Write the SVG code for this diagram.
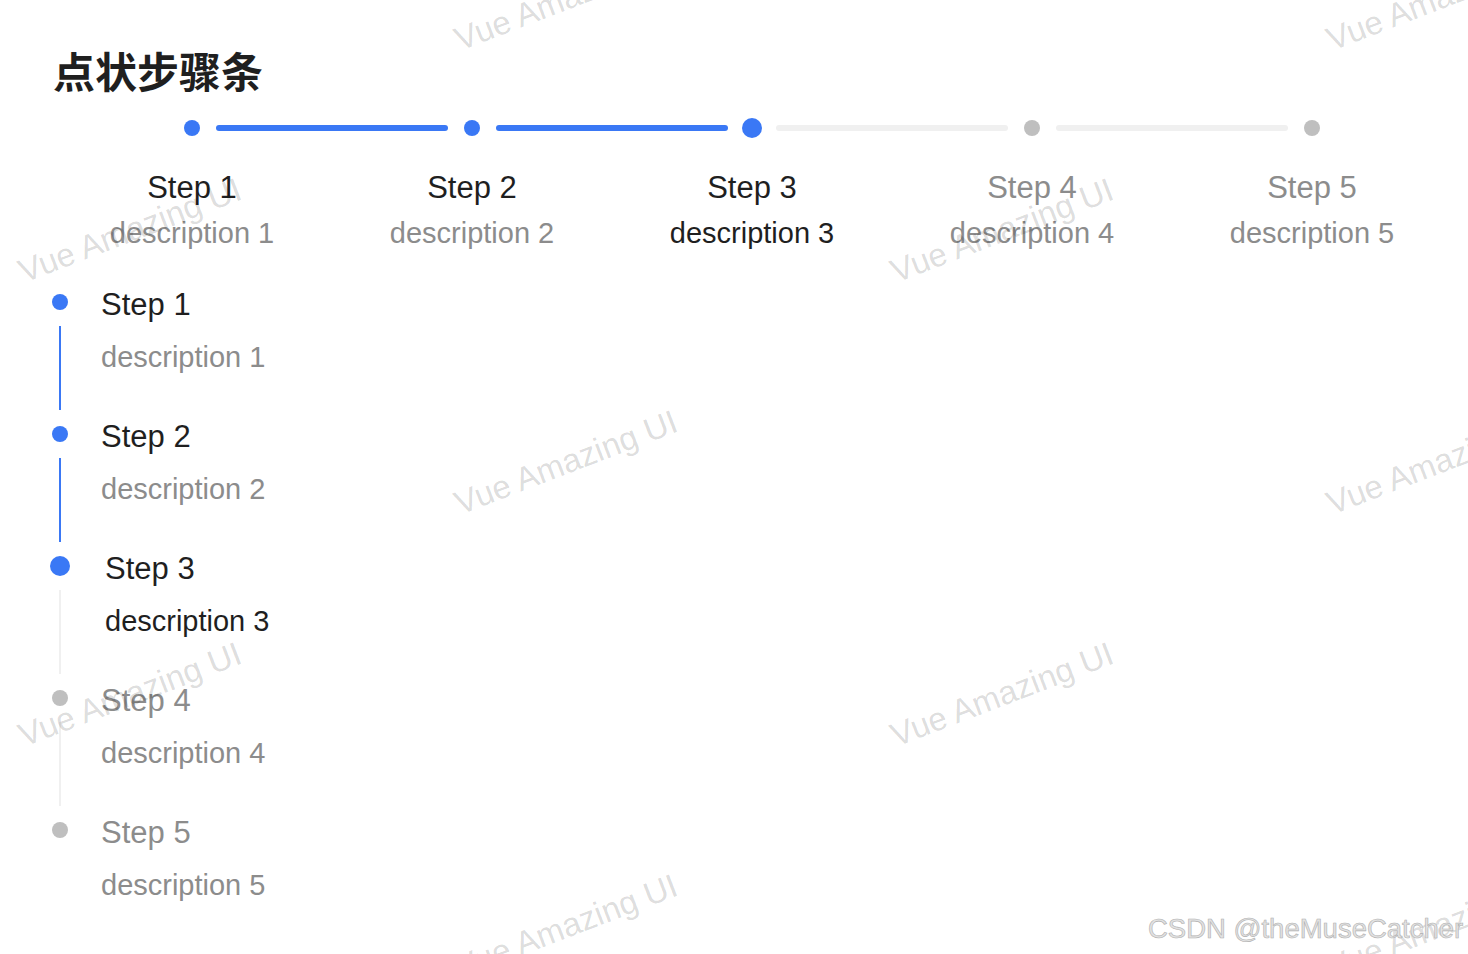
<svg xmlns="http://www.w3.org/2000/svg" width="1468" height="954" viewBox="0 0 1468 954">
<style>
.title{font-family:"Liberation Sans","Noto Sans CJK SC",sans-serif;font-weight:bold;font-size:42px;fill:#1f1f1f}
.t{font-family:"Liberation Sans",Arial,sans-serif;font-size:31px}
.d{font-family:"Liberation Sans",Arial,sans-serif;font-size:29px}
.dark{fill:#1f1f1f}
.gray{fill:#8c8c8c}
.mid{text-anchor:middle}
.wm{font-family:"Liberation Sans",Arial,sans-serif;font-size:33px;fill:rgba(0,0,0,0.15)}
.hl{stroke-width:6;stroke-linecap:round;fill:none}
.vl{stroke-width:2;fill:none}
.on{stroke:#3a78f5}
.off{stroke:#f0f0f0}
.dotOn{fill:#3a78f5}
.dotOff{fill:#bfbfbf}
</style>
<rect width="1468" height="954" fill="#ffffff"/>
<text class="title" x="53" y="88">点状步骤条</text>

<g id="connectors">
<line class="hl on" x1="219" y1="128" x2="445" y2="128"/>
<line class="hl on" x1="499" y1="128" x2="725" y2="128"/>
<line class="hl off" x1="779" y1="128" x2="1005" y2="128"/>
<line class="hl off" x1="1059" y1="128" x2="1285" y2="128"/>
<line class="vl on" x1="60" y1="326" x2="60" y2="410"/>
<line class="vl on" x1="60" y1="458" x2="60" y2="542"/>
<line class="vl off" x1="60" y1="590" x2="60" y2="674"/>
<line class="vl off" x1="60" y1="722" x2="60" y2="806"/>
</g>

<g id="h-step1"><circle class="dotOn" cx="192" cy="128" r="8"/><text class="t dark mid" x="192" y="198">Step 1</text><text class="d gray mid" x="192" y="243">description 1</text></g>
<g id="h-step2"><circle class="dotOn" cx="472" cy="128" r="8"/><text class="t dark mid" x="472" y="198">Step 2</text><text class="d gray mid" x="472" y="243">description 2</text></g>
<g id="h-step3"><circle class="dotOn" cx="752" cy="128" r="10"/><text class="t dark mid" x="752" y="198">Step 3</text><text class="d dark mid" x="752" y="243">description 3</text></g>
<g id="h-step4"><circle class="dotOff" cx="1032" cy="128" r="8"/><text class="t gray mid" x="1032" y="198">Step 4</text><text class="d gray mid" x="1032" y="243">description 4</text></g>
<g id="h-step5"><circle class="dotOff" cx="1312" cy="128" r="8"/><text class="t gray mid" x="1312" y="198">Step 5</text><text class="d gray mid" x="1312" y="243">description 5</text></g>

<g id="v-step1"><circle class="dotOn" cx="60" cy="302" r="8"/><text class="t dark" x="101" y="315">Step 1</text><text class="d gray" x="101" y="367">description 1</text></g>
<g id="v-step2"><circle class="dotOn" cx="60" cy="434" r="8"/><text class="t dark" x="101" y="447">Step 2</text><text class="d gray" x="101" y="499">description 2</text></g>
<g id="v-step3"><circle class="dotOn" cx="60" cy="566" r="10"/><text class="t dark" x="105" y="579">Step 3</text><text class="d dark" x="105" y="631">description 3</text></g>
<g id="v-step4"><circle class="dotOff" cx="60" cy="698" r="8"/><text class="t gray" x="101" y="711">Step 4</text><text class="d gray" x="101" y="763">description 4</text></g>
<g id="v-step5"><circle class="dotOff" cx="60" cy="830" r="8"/><text class="t gray" x="101" y="843">Step 5</text><text class="d gray" x="101" y="895">description 5</text></g>

<g id="watermarks">
<text class="wm" transform="translate(460,51) rotate(-21)">Vue Amazing UI</text>
<text class="wm" transform="translate(1332,51) rotate(-21)">Vue Amazing UI</text>
<text class="wm" transform="translate(24,283) rotate(-21)">Vue Amazing UI</text>
<text class="wm" transform="translate(896,283) rotate(-21)">Vue Amazing UI</text>
<text class="wm" transform="translate(460,515) rotate(-21)">Vue Amazing UI</text>
<text class="wm" transform="translate(1332,515) rotate(-21)">Vue Amazing UI</text>
<text class="wm" transform="translate(24,747) rotate(-21)">Vue Amazing UI</text>
<text class="wm" transform="translate(896,747) rotate(-21)">Vue Amazing UI</text>
<text class="wm" transform="translate(460,979) rotate(-21)">Vue Amazing UI</text>
<text class="wm" transform="translate(1332,979) rotate(-21)">Vue Amazing UI</text>
</g>
<text x="1148" y="938" font-family="'Liberation Sans',Arial,sans-serif" font-size="27.5" fill="#e2e2e2" stroke="#b0b0b0" stroke-width="0.6">CSDN @theMuseCatcher</text>
</svg>
